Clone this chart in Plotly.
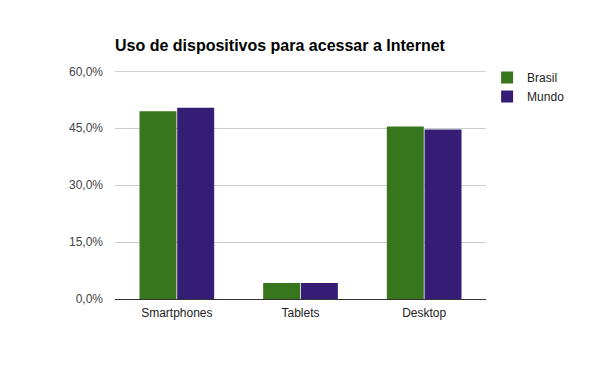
import plotly.graph_objects as go

categories = ["Smartphones", "Tablets", "Desktop"]
brasil = [49.5, 4.2, 45.5]
mundo = [50.4, 4.2, 44.7]
tick_vals = [0, 15, 30, 45, 60]
tick_text = ["0,0%", "15,0%", "30,0%", "45,0%", "60,0%"]

fig = go.Figure()
fig.add_trace(go.Bar(name="Brasil", x=categories, y=brasil, marker=dict(color="#38761d", line=dict(width=0))))
fig.add_trace(go.Bar(name="Mundo", x=categories, y=mundo, marker=dict(color="#351c75", line=dict(width=0))))

# top gridline (plotly drops the gridline lying on the plot edge)
fig.add_shape(type="line", xref="paper", yref="y", x0=0, x1=1,
              y0=tick_vals[-1], y1=tick_vals[-1],
              line=dict(color="#cccccc", width=1), layer="below")

fig.update_layout(
    width=600, height=371,
    margin=dict(l=107, r=122, t=63, b=80, autoexpand=False),
    paper_bgcolor="white", plot_bgcolor="white",
    barmode="group", bargap=0.39, bargroupgap=0.02,
    font=dict(family="Arial, Liberation Sans, sans-serif", size=11, color="#444"),
    title=dict(text="<b>Uso de dispositivos para acessar a Internet</b>",
               x=107/600, xanchor="left", y=1-37/371, yanchor="middle",
               font=dict(size=16, color="black")),
    legend=dict(x=1.003, y=1.035, xanchor="left", yanchor="top",
                font=dict(size=12, color="#222"), itemwidth=30, tracegroupgap=0,
                bgcolor="rgba(0,0,0,0)"),
    xaxis=dict(showgrid=False, showline=True, linecolor="#333", linewidth=1,
               ticks="", automargin=False, ticklabelstandoff=3,
               tickfont=dict(size=12, color="#222")),
    yaxis=dict(range=[0, 60.1], tickvals=tick_vals, ticktext=tick_text,
               showgrid=True, gridcolor="#cccccc", gridwidth=1, zeroline=False,
               ticks="", automargin=False, ticklabelstandoff=11,
               tickfont=dict(size=12, color="#444")),
)
fig.write_html("out.html")
